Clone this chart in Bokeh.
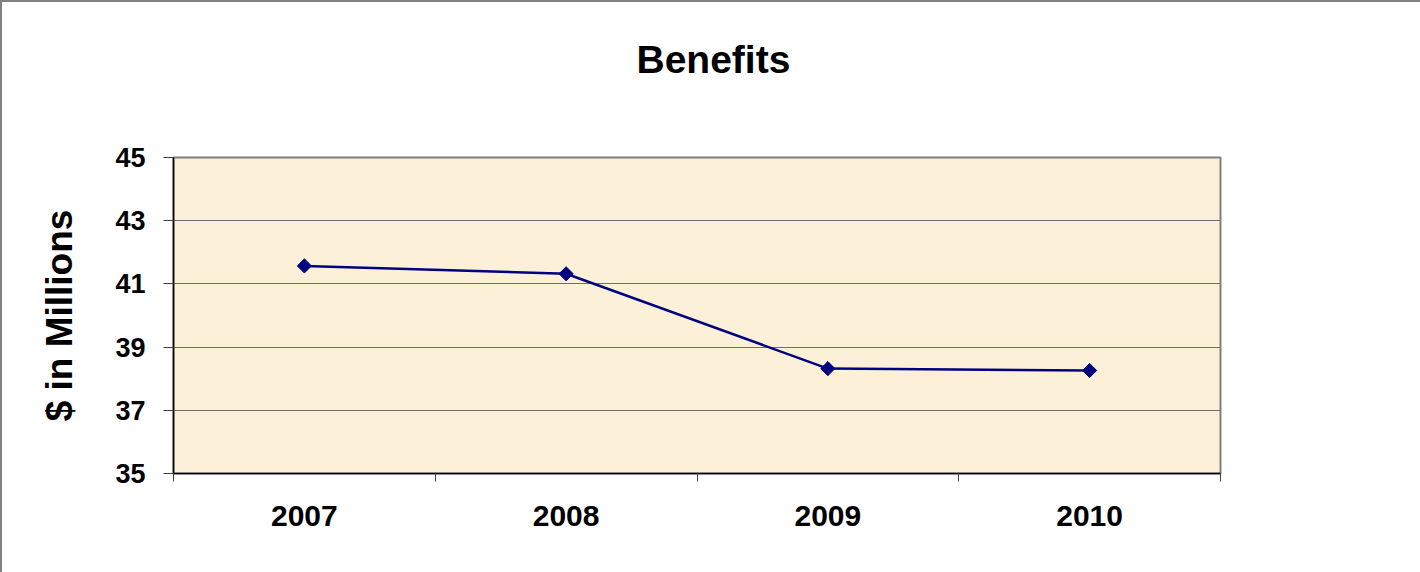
import math

from bokeh.plotting import figure
from bokeh.models import FixedTicker, Title
from bokeh.embed import file_html
from bokeh.resources import INLINE

# Benefits paid per year, $ in millions
years = ["2007", "2008", "2009", "2010"]
benefits = [41.57, 41.32, 38.32, 38.26]
y_ticks = [35, 37, 39, 41, 43, 45]

FONT = "Liberation Sans"
NAVY = "#000080"

xs = list(range(1, len(years) + 1))
boundaries = [i + 0.5 for i in range(0, len(years) + 1)]

p = figure(
    width=1420, height=572,
    output_backend="svg", toolbar_location=None,
    x_range=(0.5, len(years) + 0.5), y_range=(y_ticks[0], y_ticks[-1]),
    min_border_left=171, min_border_right=202,
    min_border_top=155, min_border_bottom=101,
    background_fill_color="#FCF0D8", border_fill_color="white",
)
# thin grey frame around the whole chart area
p.styles = {"border-top": "2px solid #808080", "border-left": "2px solid #808080",
            "box-sizing": "border-box"}

# the trailing empty line lifts the title well clear of the plot area
p.title = Title(text="Benefits\n", align="left", offset=463, standoff=64,
                vertical_align="top",
                text_font=FONT, text_font_size="39px", text_font_style="bold",
                text_color="black")

p.outline_line_color = "#808080"
p.outline_line_width = 2

# value axis
p.yaxis.ticker = FixedTicker(ticks=y_ticks)
p.yaxis.major_tick_out = 10
p.yaxis.major_tick_in = 0
p.yaxis.minor_tick_out = 0
p.yaxis.minor_tick_in = 0
p.yaxis.major_tick_line_color = "#404040"
p.yaxis.axis_line_color = "black"
p.yaxis.axis_line_width = 1.5
p.yaxis.major_label_text_font = FONT
p.yaxis.major_label_text_font_size = "27px"
p.yaxis.major_label_text_font_style = "bold"
p.yaxis.major_label_text_color = "black"
p.yaxis.major_label_standoff = 18
p.yaxis.axis_label = "$ in Millions"
p.yaxis.axis_label_text_font = FONT
p.yaxis.axis_label_text_font_size = "37px"
p.yaxis.axis_label_text_font_style = "bold"
p.yaxis.axis_label_text_color = "black"
p.yaxis.axis_label_standoff = 32

# category axis: labels at centres, ticks between categories
p.xaxis.ticker = FixedTicker(ticks=xs, minor_ticks=boundaries)
p.xaxis.major_label_overrides = {x: y for x, y in zip(xs, years)}
p.xaxis.major_tick_out = 0
p.xaxis.major_tick_in = 0
p.xaxis.minor_tick_out = 8
p.xaxis.minor_tick_in = 0
p.xaxis.minor_tick_line_color = "#404040"
p.xaxis.axis_line_color = "black"
p.xaxis.axis_line_width = 1.5
p.xaxis.major_label_text_font = FONT
p.xaxis.major_label_text_font_size = "30px"
p.xaxis.major_label_text_font_style = "bold"
p.xaxis.major_label_text_color = "black"
p.xaxis.major_label_standoff = 24

p.xgrid.visible = False
p.ygrid.grid_line_color = "#6f6f6f"
p.ygrid.grid_line_width = 1

p.line(xs, benefits, line_color=NAVY, line_width=2.5)
p.scatter(xs, benefits, marker="square", angle=math.pi / 4, size=10,
          fill_color=NAVY, line_color=NAVY)

open("out.html", "w").write(file_html(p, INLINE))
